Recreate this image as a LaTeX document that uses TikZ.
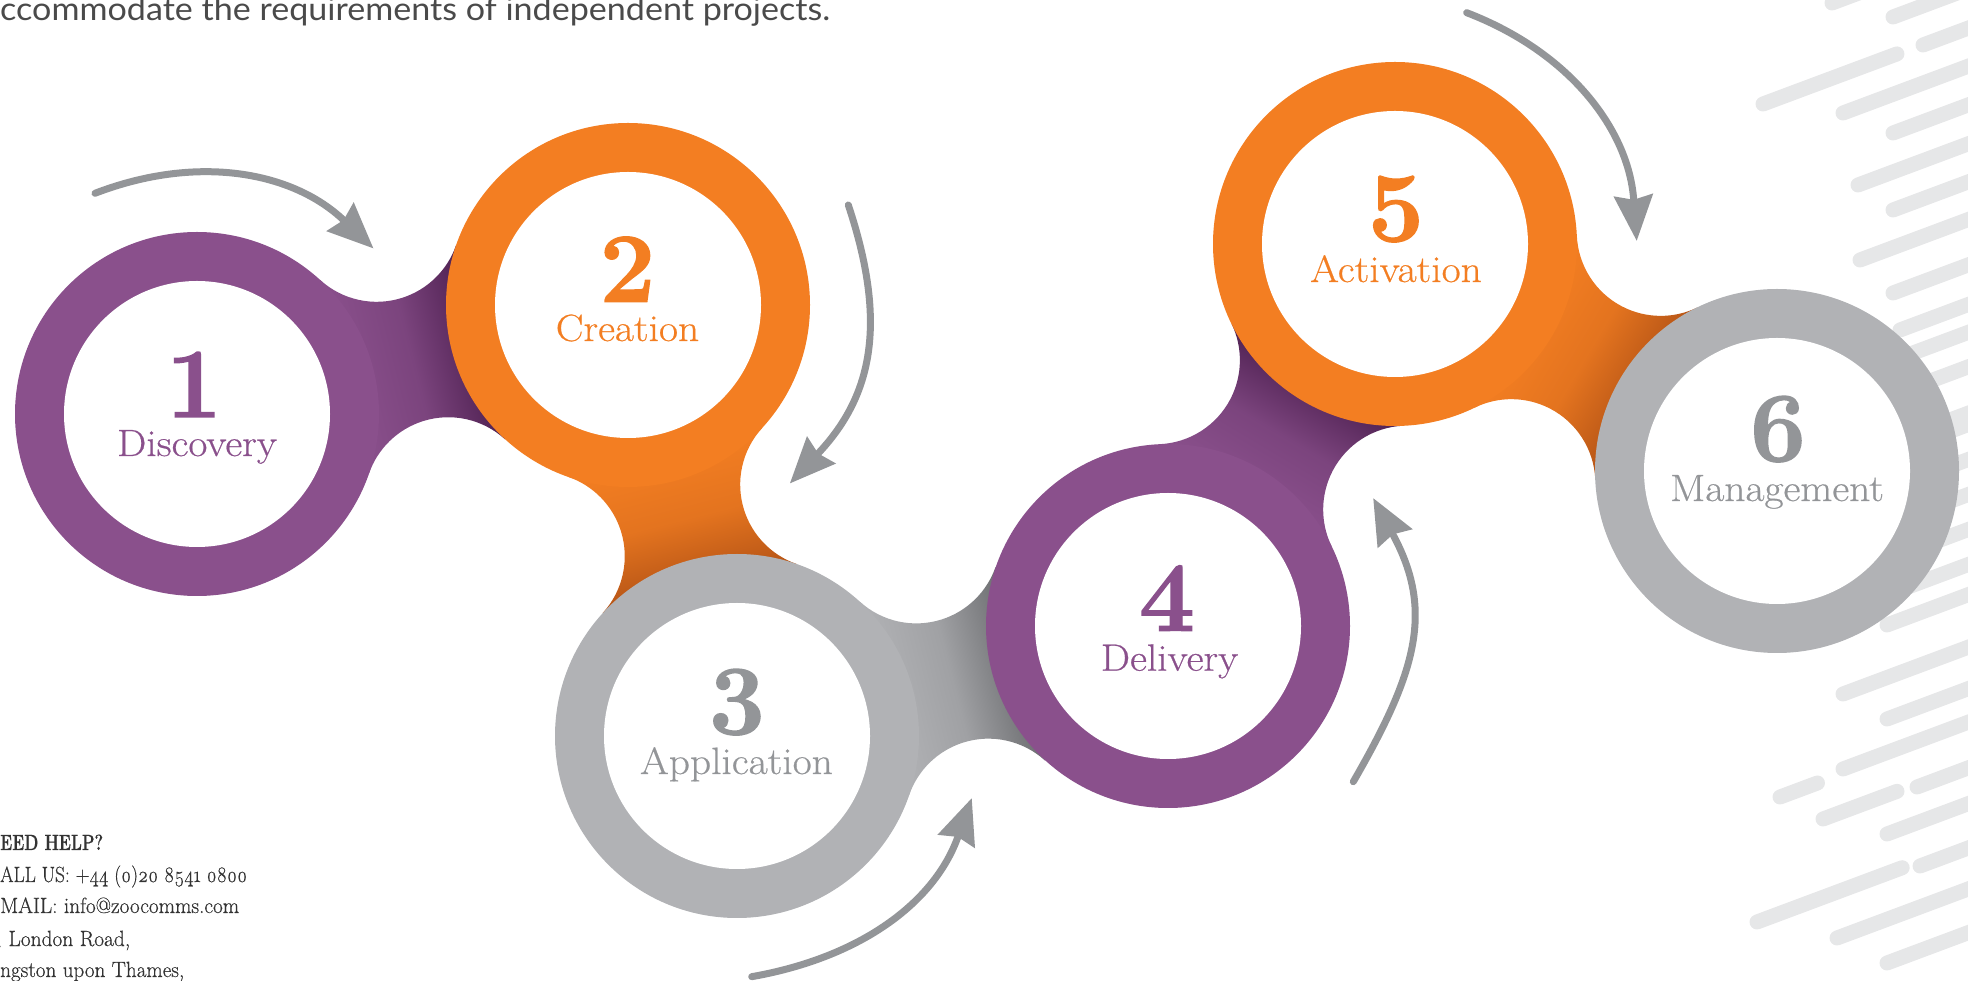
\documentclass[tikz,border=0pt]{standalone}
\usepackage{fontspec}
\usepackage{graphicx}
\usetikzlibrary{arrows.meta}
\setmainfont{Latin Modern Roman}
\newfontfamily\introfont{Lato}

\definecolor{stagepurple}{HTML}{8A508C}
\definecolor{stagepurpledark}{HTML}{4F2152}
\definecolor{stageorange}{HTML}{F37E22}
\definecolor{stageorangedark}{HTML}{B55416}
\definecolor{stagegray}{HTML}{B1B2B5}
\definecolor{stagegraydark}{HTML}{6D6E71}
\definecolor{labelgray}{HTML}{939598}
\definecolor{arrowgray}{HTML}{939598}
\definecolor{stripegray}{HTML}{E6E7E8}
\definecolor{bodytext}{HTML}{333333}
\definecolor{introtext}{HTML}{4A4A4A}

\tikzset{
  stripe/.style={draw=stripegray, line width=15pt, line cap=round},
  stagenum/.style={anchor=base, inner sep=0pt,
    font=\fontsize{99}{99}\selectfont\bfseries\addfontfeatures{FakeBold=1.5}},
  stagelabel/.style={anchor=base, inner sep=0pt,
    font=\fontsize{38}{42}\selectfont\addfontfeatures{FakeStretch=1.09,FakeBold=0.5}},
  contactline/.style={anchor=base west, inner sep=0pt, text=bodytext,
    font=\fontsize{22}{26}\selectfont\addfontfeatures{FakeBold=0.5}},
  flowarrow/.style={draw=arrowgray, line width=7pt, line cap=round,
    -{Stealth[length=46pt,width=40pt,inset=5pt,line width=0pt]}},
}

% neck joining two neighbouring rings (centre distance 444.5, ring radius 182,
% concave sides of radius 84); drawn along the local x axis and rotated into place
\newcommand\stagebridge[4]{%
  \begin{scope}[transform canvas={shift={#1},rotate=#2}]
    \shade[left color=#3, right color=#4, middle color=#3!75!#4]
      (152.1,100) arc[start angle=213.34, end angle=326.66, radius=84]
      -- (292.4,-100) arc[start angle=33.34, end angle=146.66, radius=84]
      -- cycle;
  \end{scope}}

\begin{document}
\begin{tikzpicture}[x=1pt,y=1pt]
\useasboundingbox (0,0) rectangle (1968,980);
\clip (0,0) rectangle (1968,980);

% slanted background stripes on the right
\foreach \sx/\sy/\sl in {
  1832/977/300, 1893/963/300, 1923/935/300, 1763/876/143, 1843/867/300,
  1893/847/300, 1858/795/300, 1893/770/300, 1860/720/300, 1893/687/300,
  1900/650/300, 1913/627/300, 1933/600/300, 1950/560/300, 1900/530/300,
  1900/495/300, 1900/460/300, 1900/425/300, 1900/390/300, 1887/355/300,
  1843/286/300, 1887/261/300, 1843/211/300, 1780/183/40, 1917/193/300,
  1823/161/79, 1887/146/300, 1920/114/300, 1757/58/155, 1837/42/300,
  1887/17/300}
  {\draw[stripe] (\sx,\sy) -- ++(20.5:\sl);}

% stage centres
\coordinate (s1) at (197,566);
\coordinate (s2) at (628,675);
\coordinate (s3) at (737,244);
\coordinate (s4) at (1168,354);
\coordinate (s5) at (1395,736);
\coordinate (s6) at (1777,509);

% necks between the stages
\stagebridge{(197,566)}{14.19}{stagepurple}{stagepurpledark}
\stagebridge{(628,675)}{-75.81}{stageorange}{stageorangedark}
\stagebridge{(737,244)}{14.32}{stagegray}{stagegraydark}
\stagebridge{(1168,354)}{59.28}{stagepurple}{stagepurpledark}
\stagebridge{(1395,736)}{-30.72}{stageorange}{stageorangedark}

% rings
\foreach \s/\col in {s1/stagepurple, s2/stageorange, s3/stagegray,
                     s4/stagepurple, s5/stageorange, s6/stagegray}
  {\fill[\col] (\s) circle[radius=182];
   \fill[white] (\s) circle[radius=133];}

% stage numbers and names
\node[stagenum, text=stagepurple] (num1) at (194,563) {1};
\node[stagelabel, text=stagepurple] (lab1) at (197,524) {Discovery};
\node[stagenum, text=stageorange] (num2) at (627.5,678.3) {2};
\node[stagelabel, text=stageorange] (lab2) at (627.5,639) {Creation};
\node[stagenum, text=labelgray] (num3) at (737,246) {3};
\node[stagelabel, text=labelgray] (lab3) at (736.5,206) {Application};
\node[stagenum, text=stagepurple] (num4) at (1167,349.3) {4};
\node[stagelabel, text=stagepurple] (lab4) at (1169.5,309.3) {Delivery};
\node[stagenum, text=stageorange] (num5) at (1396,739) {5};
\node[stagelabel, text=stageorange] (lab5) at (1396,698) {Activation};
\node[stagenum, text=labelgray] (num6) at (1778,519) {6};
\node[stagelabel, text=labelgray] (lab6) at (1777,479) {Management};

% curved flow arrows
\coordinate (a1s) at (95,786.7);    \coordinate (a1e) at (373.3,731.7);
\coordinate (a2s) at (848.3,775);   \coordinate (a2e) at (790,496.7);
\coordinate (a3s) at (751.7,3.3);   \coordinate (a3e) at (971.7,181.7);
\coordinate (a4s) at (1353.3,198.3);\coordinate (a4e) at (1373.3,481.7);
\coordinate (a5s) at (1466.7,967.3);\coordinate (a5e) at (1636.7,739.3);
\draw[flowarrow] (a1s) to[out=21,in=136.5] (a1e);
\draw[flowarrow] (a2s) to[out=-71.6,in=46.7,looseness=1.1] (a2e);
\draw[flowarrow] (a3s) to[out=10,in=-109.7] (a3e);
\draw[flowarrow] (a4s) to[out=60,in=-61.6,looseness=1.15] (a4e);
\draw[flowarrow] (a5s) to[out=-21,in=94.2] (a5e);

% running text at the top
\node[anchor=base west, inner sep=0pt, text=introtext,
      font=\introfont\fontsize{32}{36}\selectfont] (intro) at (0,959)
  {\llap{a}\resizebox{830pt}{\height}{ccommodate the requirements of independent projects.}};

% contact block
\node[contactline] (help) at (0,130)
  {\llap{\bfseries N}\resizebox{103pt}{\height}{\bfseries EED HELP?}};
\node[contactline] (call) at (0,98)
  {\llap{C}\resizebox{247pt}{\height}{ALL US: +\oldstylenums{44} (\oldstylenums{0})\oldstylenums{20} \oldstylenums{8541} \oldstylenums{0800}}};
\node[contactline] (mail) at (0,67)
  {\llap{E}\resizebox{239pt}{\height}{MAIL: info@zoocomms.com}};
\node[contactline] (road) at (8.3,34)
  {\llap{\oldstylenums{3}\ }\resizebox{121.7pt}{\height}{London Road,}};
\node[contactline] (town) at (0,3)
  {\llap{Ki}\resizebox{184pt}{\height}{ngston upon Thames,}};
\end{tikzpicture}
\end{document}
